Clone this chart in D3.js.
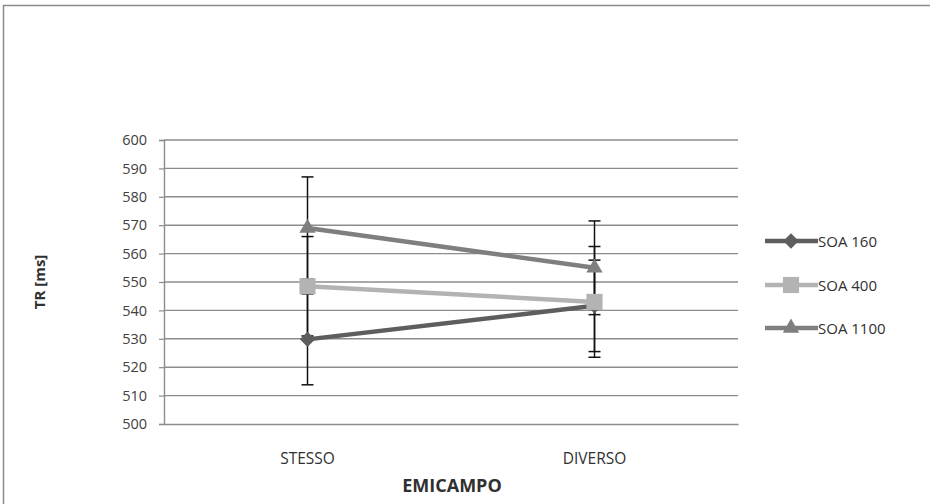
<!DOCTYPE html>
<html>
<head>
<meta charset="utf-8">
<script src="https://cdn.jsdelivr.net/npm/d3@7"></script>
<style>
  html, body { margin: 0; padding: 0; background: #fff; }
  svg { display: block; }
  text { font-family: "Open Sans", "DejaVu Sans", sans-serif; }
</style>
</head>
<body>
<svg id="chart" width="930" height="504"></svg>
<script>
// Reaction times (ms) by hemifield and SOA, with error bar half-widths
const categories = ["STESSO", "DIVERSO"];
const seriesNames = ["SOA 160", "SOA 400", "SOA 1100"];
const soa160 = [529.8, 541.6];
const soa400 = [548.5, 543.0];
const soa1100 = [569.0, 555.0];
const err160 = [16.0, 16.1];
const err400 = [17.5, 19.5];
const err1100 = [18.0, 16.5];
const yTicks = [500, 510, 520, 530, 540, 550, 560, 570, 580, 590, 600];

const seriesValues = [soa160, soa400, soa1100];
const seriesErrors = [err160, err400, err1100];
const colors = ["#5e5e5e", "#b3b3b3", "#7f7f7f"];
const shapes = [d3.symbolDiamond2, d3.symbolSquare, d3.symbolTriangle];
const shapeSizes = [150, 260, 115];

const svg = d3.select("#chart");

// Outer chart frame
svg.append("rect")
  .attr("x", 3.5).attr("y", 5.5)
  .attr("width", 935).attr("height", 510)
  .attr("fill", "#fff")
  .attr("stroke", "#8a8a8a").attr("stroke-width", 1.5);

const plot = { left: 164, right: 738, top: 140, bottom: 424 };

const x = d3.scaleBand().domain(categories).range([plot.left, plot.right]);
const y = d3.scaleLinear().domain([500, 600]).range([plot.bottom, plot.top]);
const cx = c => x(c) + x.bandwidth() / 2;

// Horizontal gridlines
svg.append("g").selectAll("line").data(yTicks.filter(t => t > 500)).join("line")
  .attr("x1", plot.left).attr("x2", plot.right)
  .attr("y1", d => y(d)).attr("y2", d => y(d))
  .attr("stroke", "#8c8c8c").attr("stroke-width", 1.4);

// Y axis
const yAxis = svg.append("g")
  .attr("transform", `translate(${plot.left},0)`)
  .call(d3.axisLeft(y).tickValues(yTicks).tickSize(5).tickPadding(12));
yAxis.select(".domain").attr("stroke", "#8c8c8c").attr("stroke-width", 1.4);
yAxis.selectAll(".tick line").attr("stroke", "#8c8c8c").attr("stroke-width", 1.2);
yAxis.selectAll(".tick text")
  .attr("fill", "#404040").attr("font-size", 14.5)
  .style("font-family", "'Open Sans', sans-serif");

// X axis
const xAxis = svg.append("g")
  .attr("transform", `translate(0,${plot.bottom})`)
  .call(d3.axisBottom(x).tickSize(0).tickPadding(29));
xAxis.select(".domain").attr("stroke", "#8c8c8c").attr("stroke-width", 1.4);
xAxis.selectAll(".tick text")
  .attr("fill", "#303030").attr("font-size", 15.5)
  .style("font-family", "'Open Sans', sans-serif");

// Axis titles
svg.append("text")
  .attr("transform", `translate(45,${(plot.top + plot.bottom) / 2}) rotate(-90)`)
  .attr("text-anchor", "middle")
  .attr("font-size", 15).attr("font-weight", "bold").attr("fill", "#303030")
  .text("TR [ms]");
svg.append("text")
  .attr("x", 452).attr("y", 492)
  .attr("text-anchor", "middle")
  .attr("font-size", 18).attr("font-weight", "bold").attr("fill", "#303030")
  .text("EMICAMPO");

const line = d3.line().x((d, i) => cx(categories[i])).y(d => y(d));

// Series lines
seriesValues.forEach((vals, s) => {
  svg.append("path")
    .datum(vals)
    .attr("d", line)
    .attr("fill", "none")
    .attr("stroke", colors[s]).attr("stroke-width", 4.5);
});

// Error bars
const capHalf = 6;
seriesValues.forEach((vals, s) => {
  const g = svg.append("g").attr("stroke", "#111").attr("stroke-width", 1.5);
  vals.forEach((v, i) => {
    const px = cx(categories[i]);
    const hi = y(v + seriesErrors[s][i]);
    const lo = y(v - seriesErrors[s][i]);
    g.append("line").attr("x1", px).attr("x2", px).attr("y1", hi).attr("y2", lo);
    g.append("line").attr("x1", px - capHalf).attr("x2", px + capHalf).attr("y1", hi).attr("y2", hi);
    g.append("line").attr("x1", px - capHalf).attr("x2", px + capHalf).attr("y1", lo).attr("y2", lo);
  });
});

// Markers
seriesValues.forEach((vals, s) => {
  svg.append("g").selectAll("path").data(vals).join("path")
    .attr("transform", (d, i) => `translate(${cx(categories[i])},${y(d)})`)
    .attr("d", d3.symbol().type(shapes[s]).size(shapeSizes[s]))
    .attr("fill", colors[s]);
});

// Legend
const legendRows = [241, 285, 328];
const legend = svg.append("g");
seriesNames.forEach((name, s) => {
  const ly = legendRows[s];
  legend.append("line")
    .attr("x1", 765).attr("x2", 818).attr("y1", ly).attr("y2", ly)
    .attr("stroke", colors[s]).attr("stroke-width", 4.5);
  legend.append("path")
    .attr("transform", `translate(791,${ly})`)
    .attr("d", d3.symbol().type(shapes[s]).size(shapeSizes[s]))
    .attr("fill", colors[s]);
  legend.append("text")
    .attr("x", 818).attr("y", ly + 5.5)
    .attr("font-size", 15).attr("fill", "#303030")
    .text(name);
});
</script>
</body>
</html>
